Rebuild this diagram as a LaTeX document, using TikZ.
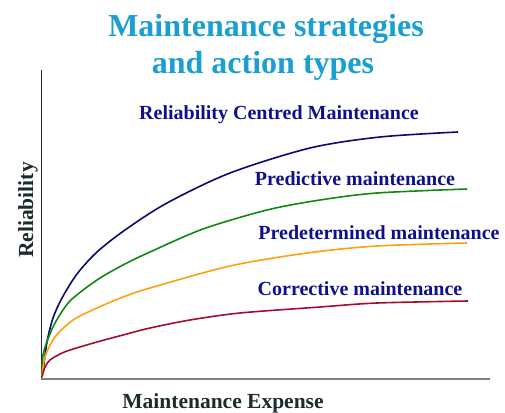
\documentclass[tikz,border=0pt]{standalone}
\usepackage{fontspec}
\setmainfont{Liberation Serif}

\definecolor{titleblue}{HTML}{1A9FD0}
\definecolor{labelnavy}{HTML}{10108C}
\definecolor{rcmblue}{HTML}{0A0A70}
\definecolor{pdgreen}{HTML}{118811}
\definecolor{pmorange}{HTML}{FFA010}
\definecolor{cmred}{HTML}{A0102E}
\definecolor{axisdark}{HTML}{1C2B2B}

\begin{document}
\begin{tikzpicture}[
  x=1pt, y=-1pt,
  title/.style={anchor=base, inner sep=0pt, font=\bfseries\fontsize{32}{32}\selectfont, titleblue},
  strategy/.style={anchor=base, inner sep=0pt, font=\bfseries\fontsize{20}{20}\selectfont, labelnavy},
  axislabel/.style={anchor=base, inner sep=0pt, font=\bfseries\fontsize{21.5}{21.5}\selectfont, axisdark},
  curve/.style={line width=1.6pt, line join=round},
]
\useasboundingbox (0,0) rectangle (505,412);

\coordinate (origin) at (41,379);
\coordinate (ytop) at (41,70);
\coordinate (xend) at (490,379);

\node (title1) [title] at (266,37) {Maintenance strategies};
\node (title2) [title] at (263,73) {and action types};

% axes
\draw[axisdark, line width=1pt] (origin) -- (ytop);
\draw[black!50, line width=1.6pt] (origin) -- (xend);

\node (xlabel) [axislabel] at (223,408) {Maintenance Expense};
\node (ylabel) [axislabel, rotate=90] at (33,210) {Reliability};

% curves
\draw[curve, rcmblue] plot[smooth] coordinates {
  (43,372) (47,342) (53,318) (62,298) (77,274) (97,252) (125,230) (167,203)
  (230,173) (310,148) (380,137) (458,132)};
\draw[curve, pdgreen] plot[smooth] coordinates {
  (42,377) (43,355) (48,339) (55,323) (70,301) (97,280) (123,265) (150,252)
  (203,229) (267,210) (320,200) (377,193) (467,189)};
\draw[curve, pmorange] plot[smooth] coordinates {
  (42,377) (45,357) (55,337) (73,320) (97,308) (123,297) (150,288)
  (230,266) (307,253) (377,246) (467,243)};
\draw[curve, cmred] plot[smooth] coordinates {
  (42,377) (45,367) (50,360) (60,354) (70,350) (97,342) (123,335) (150,328)
  (190,320) (240,313) (320,307) (377,303) (468,301)};

\node (rcm) [strategy] at (279,119) {Reliability Centred Maintenance};
\node (pd) [strategy] at (355,185) {Predictive maintenance};
\node (pm) [strategy] at (379,239) {Predetermined maintenance};
\node (cm) [strategy] at (360,295) {Corrective maintenance};

\end{tikzpicture}
\end{document}
